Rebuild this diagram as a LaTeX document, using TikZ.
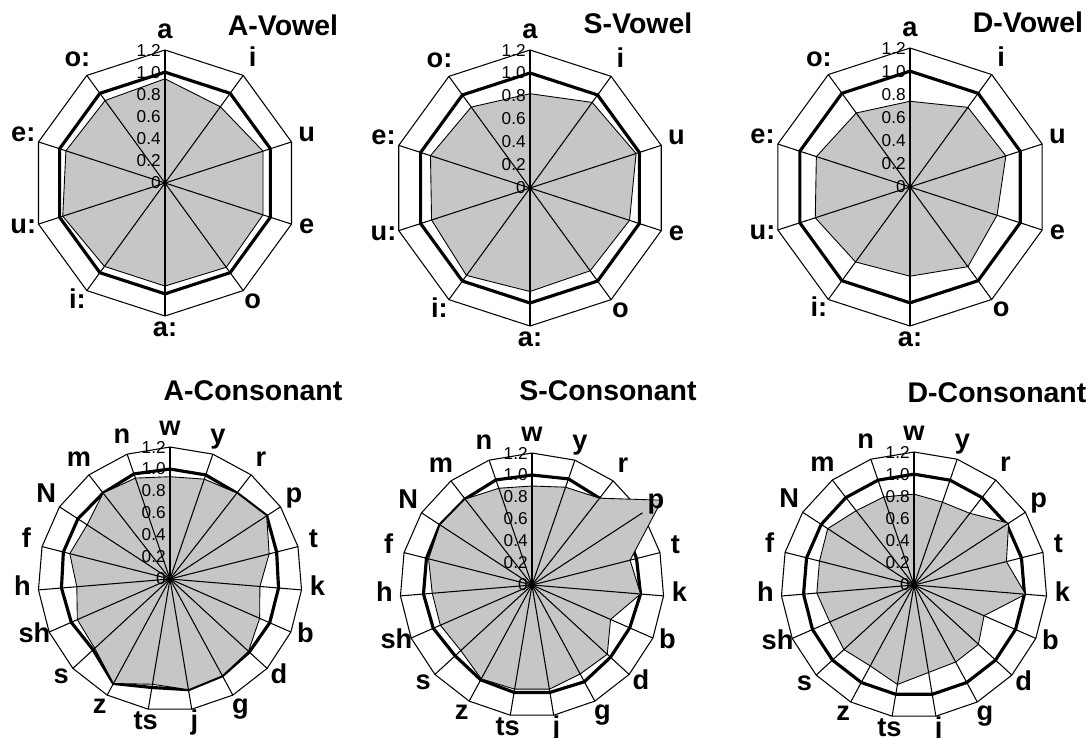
\documentclass[tikz,border=0pt]{standalone}
\usepackage{fontspec}
\setmainfont{Liberation Sans}
\usetikzlibrary{positioning}
\definecolor{areagray}{RGB}{198,198,198}
\tikzset{
        % Outer ring and spokes
        gridline/.style={draw=black, line width=0.6pt},
        % Reference series
        refline/.style={draw=black, line width=1.8pt, line join=miter},
        % Measured series
        fillarea/.style={fill=areagray, draw=black, line width=0.5pt, line join=miter},
        % Axis labels
        axislabel/.style={font=\bfseries\fontsize{15.5}{15.5}\selectfont, inner sep=0pt, text height=0.72em, text depth=0.21em},
        % Scale labels
        ticklabel/.style={font=\fontsize{9.8}{9.8}\selectfont, inner sep=0pt, anchor=east},
        % Chart titles
        charttitle/.style={font=\bfseries\fontsize{16.2}{16.2}\selectfont, inner sep=0pt}
}

% #1 name, #2 centre, #3 radius of the 1.2 ring, #4 number of axes,
% #5 axis labels, #6 reference values, #7 measured values
\newcommand{\radarchart}[7]{%
  \begin{scope}[shift={#2}]
    \pgfmathsetmacro{\rr}{#3}
    \pgfmathsetmacro{\dang}{360/#4}
    \pgfmathtruncatemacro{\nlast}{#4-1}
    \coordinate (#1-c) at (0,0);
    \foreach \k in {0,...,\nlast} {
      \coordinate (#1-o\k) at ({-90+\k*\dang}:\rr);
    }
    \foreach \v [count=\k from 0] in {#6} {
      \coordinate (#1-r\k) at ({-90+\k*\dang}:{\v*\rr/1.2});
    }
    \foreach \v [count=\k from 0] in {#7} {
      \coordinate (#1-m\k) at ({-90+\k*\dang}:{\v*\rr/1.2});
    }
    \draw[gridline] (#1-o0) \foreach \k in {1,...,\nlast} { -- (#1-o\k) } -- cycle;
    \draw[refline] (#1-r0) \foreach \k in {1,...,\nlast} { -- (#1-r\k) } -- cycle;
    \draw[fillarea] (#1-m0) \foreach \k in {1,...,\nlast} { -- (#1-m\k) } -- cycle;
    \foreach \k in {0,...,\nlast} {
      \draw[gridline] (#1-c) -- (#1-o\k);
    }
    \foreach \tick [count=\k from 0] in {0,0.2,0.4,0.6,0.8,1.0,1.2} {
      \node[ticklabel] (#1-t\k) at (-4,{-\tick*\rr/1.2}) {\tick};
    }
    \foreach \lab [count=\k from 0] in {#5} {
      \node[axislabel] (#1-l\k) at ({-90+\k*\dang}:{\rr+16}) {\lab};
    }
  \end{scope}%
}

\begin{document}
\begin{tikzpicture}[x=0.02cm, y=-0.02cm]
  \path[fill=white, use as bounding box] (0,0) rectangle (1091,737);

  % Vowels
  \radarchart{AV}{(165,183)}{133}{10}{a,i,u,e,o,a:,i:,u:,e:,o:}
    {1,1,1,1,1,1,1,1,1,1}
    {.94,.85,.93,.93,.94,.93,.93,.97,.94,.92}
  \radarchart{SV}{(530,188)}{138}{10}{a,i,u,e,o,a:,i:,u:,e:,o:}
    {1,1,1,1,1,1,1,1,1,1}
    {.82,.92,.97,.91,.89,.90,.94,.90,.91,.87}
  \radarchart{DV}{(910,187)}{139}{10}{a,i,u,e,o,a:,i:,u:,e:,o:}
    {1,1,1,1,1,1,1,1,1,1}
    {.74,.85,.87,.79,.85,.77,.80,.86,.85,.79}

  % Consonants
  \radarchart{AC}{(170,579)}{132}{19}{w,y,r,p,t,k,b,d,g,j,ts,z,s,sh,h,f,N,m,n}
    {1.0,1.0,.99,1.05,1.0,.99,.99,.98,1.0,1.02,1.0,1.08,.95,.98,.99,1.0,1.0,.99,1.01}
    {.93,.96,.99,1.05,.93,.82,.89,.97,1.0,1.02,.97,1.08,.93,.92,.85,.94,.90,.99,.97}
  \radarchart{SC}{(532,585)}{132}{19}{w,y,r,p,t,k,b,d,g,j,ts,z,s,sh,h,f,N,m,n}
    {1.0,1.02,1.0,1.0,.98,.99,.97,.97,1.0,.99,.99,.98,.95,.98,.99,.99,1.0,.99,1.01}
    {.90,.94,1.0,1.41,.92,.99,.78,.93,.92,.96,.96,.97,.88,.91,.91,.97,1.0,.99,.93}
  \radarchart{DC}{(914,585)}{133}{19}{w,y,r,p,t,k,b,d,g,j,ts,z,s,sh,h,f,N,m,n}
    {1,1,1,1,1,1,1,1,1,1,1,1,1,1,1,1,1,1,1}
    {.82,.79,.82,1.02,.86,1.01,.69,.79,.79,.80,.91,.83,.86,.83,.88,.88,.93,.85,.84}

  % Titles
  \node[charttitle] (AV-title) at (283,25) {A-Vowel};
  \node[charttitle] (SV-title) at (638,23) {S-Vowel};
  \node[charttitle] (DV-title) at (1028,22) {D-Vowel};
  \node[charttitle] (AC-title) at (253,391) {A-Consonant};
  \node[charttitle] (SC-title) at (608,391) {S-Consonant};
  \node[charttitle] (DC-title) at (997,393) {D-Consonant};
\end{tikzpicture}
\end{document}
